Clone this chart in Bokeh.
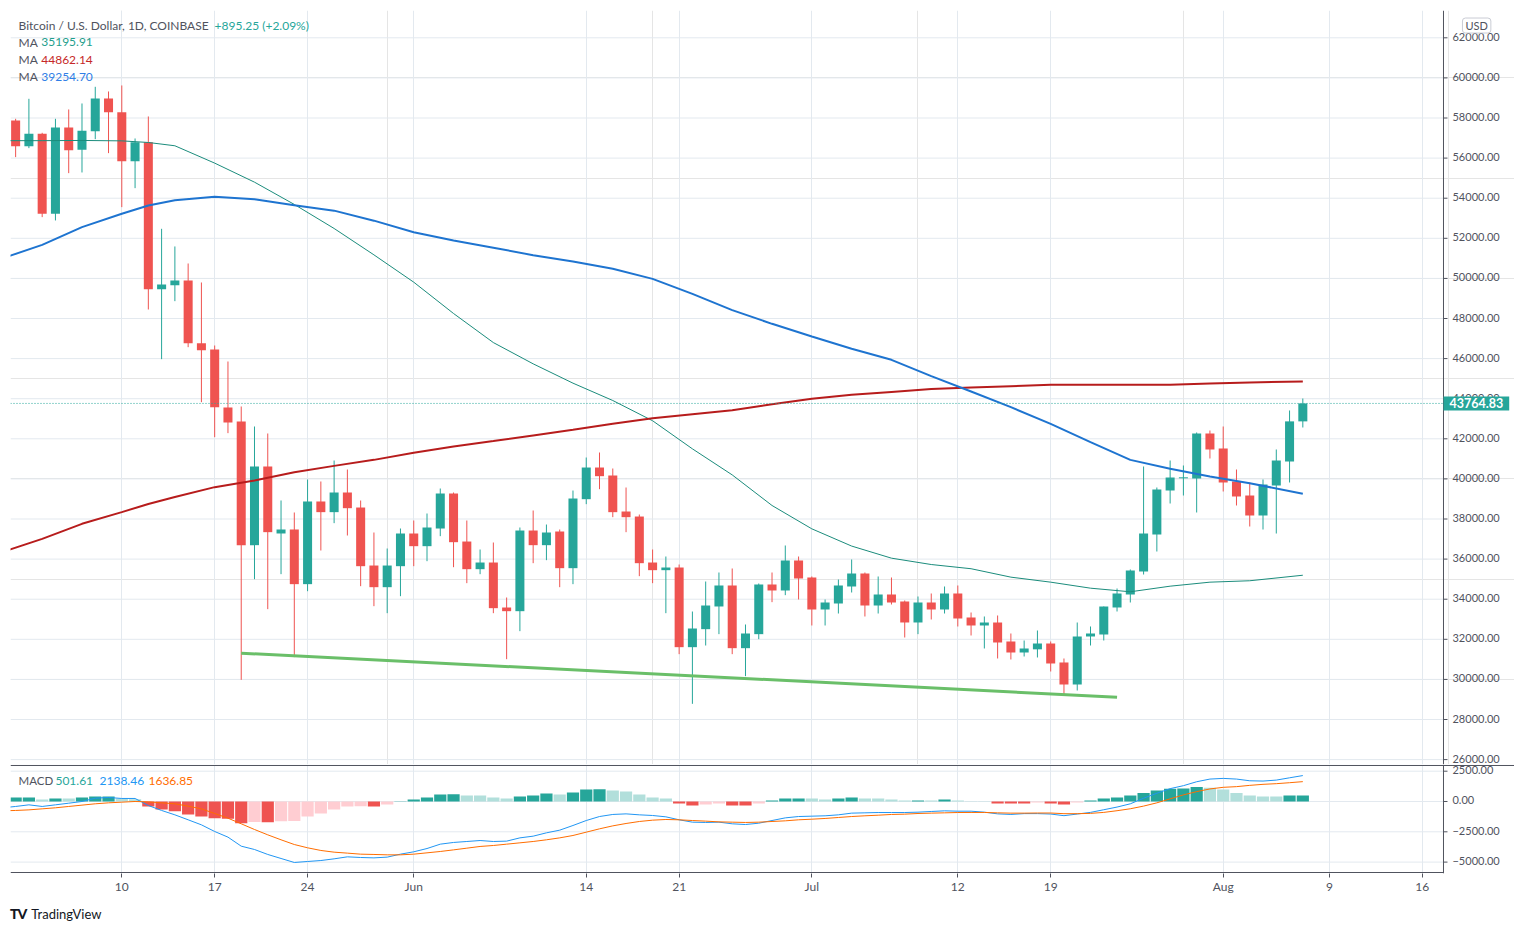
import pandas as pd
import numpy as np
from bokeh.plotting import figure
from bokeh.models import (Range1d, FixedTicker, Grid, Span, Label, Div, ColumnDataSource)
from bokeh.core.properties import value
from bokeh.layouts import column
from bokeh.embed import file_html
from bokeh.resources import INLINE

# ---------------- data ----------------
FIRST_DAY = "2021-05-02"
LAST_DAY = "2021-08-07"

open_ = [57877, 56597, 57212, 53222, 57528, 56420, 57345, 58974, 58293, 55849,
         56796, 49463, 49663, 49896, 46770, 46454, 43561, 42864, 36696, 40619,
         37278, 37477, 34751, 38874, 38342, 39322, 38573, 35680, 34600, 35647,
         37277, 36645, 37526, 39272, 36877, 35498, 35830, 33586, 33403, 37426,
         36695, 37377, 35548, 38989, 40568, 40170, 38374, 38124, 35830, 35448,
         35581, 31608, 32506, 33637, 34684, 31558, 32257, 34734, 34435, 35931,
         35083, 33487, 33786, 34634, 35282, 33686, 34235, 33886, 32839, 33836,
         33487, 34285, 33088, 32689, 32838, 31891, 31342, 31500, 31791, 30844,
         29746, 32140, 32240, 33587, 34235, 35382, 37227, 39422, 40030, 40020,
         42265, 41517, 39871, 39172, 38175, 39671, 40868, 42869.58]
high = [57960, 58958, 57262, 57960, 58426, 58725, 59556, 59323, 59623, 56979,
        58077, 52474, 51593, 50744, 49796, 46654, 45856, 43612, 42614, 42265,
        38924, 38325, 39970, 39871, 40918, 40469, 38923, 37327, 36529, 37526,
        37925, 38274, 39521, 39322, 37925, 36479, 36828, 34085, 37576, 38424,
        37725, 37476, 39421, 41067, 41317, 40519, 39571, 38224, 36479, 36130,
        35730, 33386, 34883, 35332, 35532, 32739, 34784, 35332, 36679, 36130,
        35133, 33986, 34983, 35981, 35332, 35133, 35083, 33936, 34135, 34285,
        34634, 34684, 33337, 33138, 33188, 32290, 31941, 32440, 31891, 31043,
        32838, 32639, 33636, 34534, 35482, 40619, 39571, 40918, 40669, 42315,
        42414, 42614, 40469, 39821, 39971, 41467, 43412, 44010]
low = [56050, 56497, 53056, 52890, 55250, 55283, 56946, 56248, 53555, 54502,
       48450, 45972, 48865, 46570, 43828, 42082, 42282, 29979, 34999, 33504,
       35249, 31110, 34400, 36429, 37793, 37177, 34650, 33652, 33303, 34151,
       35647, 35897, 37144, 35597, 34800, 35248, 33303, 31009, 32406, 35797,
       35947, 34600, 34750, 38740, 39488, 38091, 37343, 35149, 34800, 33303,
       31259, 28782, 31691, 32257, 31259, 30162, 32007, 33853, 34202, 33986,
       32689, 32689, 33287, 34335, 33138, 33287, 33736, 32090, 32257, 32988,
       33287, 32639, 32190, 31542, 31043, 30993, 31143, 31093, 30395, 29247,
       29447, 31691, 31941, 33387, 33836, 35232, 36379, 38773, 39172, 38325,
       41018, 39372, 38674, 37626, 37476, 37277, 39821, 42564]
close = [56597, 57212, 53222, 57528, 56397, 57362, 58974, 58293, 55849, 56796,
         49463, 49696, 49896, 46770, 46421, 43578, 42814, 36696, 40619, 37344,
         37477, 34751, 38874, 38342, 39322, 38540, 35647, 34600, 35680, 37277,
         36645, 37576, 39272, 36844, 35498, 35830, 33553, 33403, 37426, 36695,
         37327, 35548, 39022, 40568, 40136, 38341, 38091, 35797, 35448, 35581,
         31608, 32539, 33686, 34684, 31558, 32290, 34734, 34435, 35931, 35033,
         33487, 33836, 34684, 35282, 33686, 34235, 33836, 32839, 33836, 33487,
         34285, 33038, 32689, 32838, 31841, 31342, 31542, 31791, 30794, 29746,
         32140, 32290, 33636, 34285, 35432, 37277, 39472, 40070, 40080, 42265,
         41467, 39821, 39123, 38175, 39721, 40918, 42869.58, 43764.83]

# moving averages, read at sample dates
ma_dates = ["2021-05-01", "2021-05-04", "2021-05-07", "2021-05-10", "2021-05-12", "2021-05-14",
            "2021-05-17", "2021-05-20", "2021-05-23", "2021-05-26", "2021-05-29", "2021-06-01",
            "2021-06-04", "2021-06-07", "2021-06-10", "2021-06-13", "2021-06-16", "2021-06-19",
            "2021-06-22", "2021-06-25", "2021-06-28", "2021-07-01", "2021-07-04", "2021-07-07",
            "2021-07-10", "2021-07-13", "2021-07-16", "2021-07-19", "2021-07-22", "2021-07-25",
            "2021-07-28", "2021-07-31", "2021-08-03", "2021-08-07"]
ma_teal = [56870, 56870, 56880, 56860, 56780, 56615, 55750, 54800, 53690, 52490, 51175, 49812,
           48250, 46800, 45739, 44775, 43910, 42900, 41500, 40200, 38674, 37510, 36650, 36047,
           35730, 35520, 35100, 34850, 34550, 34370, 34650, 34850, 34920, 35195.91]
ma_red = [36350, 37011, 37760, 38342, 38750, 39100, 39589, 39921, 40336, 40650, 40950, 41300,
          41620, 41890, 42170, 42450, 42750, 43030, 43230, 43430, 43720, 43994, 44200, 44340,
          44480, 44560, 44626, 44692, 44700, 44690, 44700, 44760, 44810, 44862.14]
ma_blue = [51000, 51675, 52557, 53222, 53640, 53900, 54070, 53950, 53650, 53380, 52880, 52306,
           51890, 51530, 51159, 50843, 50477, 49978, 49230, 48420, 47735, 47103, 46488, 45939,
           45124, 44360, 43578, 42747, 41833, 40950, 40502, 40120, 39788, 39254.70]

trend_dates = ["2021-05-19", "2021-07-24"]
trend_values = [31310, 29110]

LAST_PRICE = 43764.83

# MACD (lines start one day earlier, at the left edge)
MACD_FIRST_DAY = "2021-05-01"
macd_line = [-520, -410, -275, -410, -275, -140, 0, 275, 330, 250, 250, -330, -740, -1100, -1510,
             -1925, -2475, -2940, -3685, -3960, -4370, -4700, -5030, -4950, -4870, -4730, -4565,
             -4620, -4650, -4590, -4345,
             -4150, -3880, -3520, -3380, -3300, -3220, -3300, -3270, -3000, -2860, -2585, -2365,
             -1980, -1570, -1240, -1070, -1020, -1100, -1155, -1265, -1510, -1705, -1730, -1705,
             -1840, -1900, -1790, -1570, -1350, -1240,
             -1210, -1180, -1100, -960, -935, -910, -910, -910, -880, -825, -770, -800, -800,
             -880, -1020, -1070, -1000, -1000, -1035, -1170, -1035, -900, -680, -460, -190, 270,
             680, 1060, 1305, 1630, 1850,
             1905, 1850, 1710, 1685, 1765, 1955, 2138.46]
signal_line = [-770, -740, -690, -605, -520, -410, -300, -190, -110, -55, 0, -30, -110, -190, -385,
               -605, -990, -1375, -1840, -2310, -2750, -3160, -3550, -3820, -4040, -4180, -4260,
               -4345, -4370, -4400, -4400,
               -4345, -4235, -4125, -3990, -3850, -3710, -3630, -3520, -3410, -3300, -3160, -3000,
               -2805, -2530, -2255, -2010, -1815, -1650, -1540, -1485, -1510, -1570, -1620, -1680,
               -1705, -1730, -1705, -1650, -1595, -1510,
               -1460, -1400, -1320, -1240, -1180, -1130, -1070, -1045, -990, -960, -935, -910,
               -905, -905, -935, -960, -960, -950, -950, -1005, -1005, -980, -900, -760, -600,
               -380, -110, 220, 545, 815, 1035,
               1170, 1225, 1330, 1415, 1470, 1550, 1636.85]
histogram = [330, 335, 165, 250, 245, 330, 410, 415, 250, 190, -410, -660, -800, -1070, -1240,
             -1375, -1430, -1790, -1700, -1720, -1620, -1610, -1240, -990, -660, -410, -400, -420,
             -250, 30,
             165, 330, 580, 590, 495, 490, 330, 250, 410, 495, 660, 580, 740, 990, 1000, 910, 825,
             580, 330, 250, -165, -330, -250, -165, -330, -335, -165, 80, 250, 255,
             245, 165, 250, 330, 250, 245, 165, 80, 85, 80, 165, 80, 20, 15, -165, -170, -175,
             -85, -170, -245, -85, 80, 245, 330, 490, 710, 900, 1060, 1065, 1200, 1140,
             980, 710, 490, 410, 405, 490, 501.61]

tick_days = [0, 7, 14, 22, 35, 42, 52, 63, 70, 83, 91, 98]
tick_labels = ["10", "17", "24", "Jun", "14", "21", "Jul", "12", "19", "Aug", "9", "16"]
price_ticks = list(range(26000, 62001, 2000))
macd_ticks = [-5000, -2500, 0, 2500]

# ---------------- styling / geometry ----------------
UP = "#26a69a"
DOWN = "#ef5350"
UP_LIGHT = "#b2dfdb"
DOWN_LIGHT = "#ffcdd2"
GRID = "#e3e9ef"
AXIS = "#50535e"
TEXT = "#50535e"
FONT = "Lato"

PX_PER_DAY = 13.27
X_LEFT = -8.387
FRAME_W = 1504
X_RIGHT = X_LEFT + FRAME_W / PX_PER_DAY
AX_X = 99.6                       # price-scale line position (in days)
TICK_X1 = AX_X + 4 / PX_PER_DAY
LBL_X = AX_X + 9 / PX_PER_DAY

base = pd.Timestamp("2021-05-10")
days = pd.date_range(FIRST_DAY, LAST_DAY, freq="D")
x = np.asarray((days - base).days, dtype=float)
macd_days = pd.date_range(MACD_FIRST_DAY, LAST_DAY, freq="D")
xm = np.asarray((macd_days - base).days, dtype=float)
ma_x = np.asarray((pd.to_datetime(ma_dates) - base).days, dtype=float)
tr_x = np.asarray((pd.to_datetime(trend_dates) - base).days, dtype=float)

o = np.array(open_, dtype=float)
c = np.array(close, dtype=float)
h = np.array(high, dtype=float)
l = np.array(low, dtype=float)
col = np.where(c >= o, UP, DOWN)
src = ColumnDataSource(dict(x=x, top=np.maximum(o, c), bottom=np.minimum(o, c), high=h, low=l, color=col))

x_range = Range1d(X_LEFT, X_RIGHT)
xt = FixedTicker(ticks=tick_days)


def fmt(v):
    return ("\u2212" if v < 0 else "") + f"{abs(v):.2f}"


def price_scale(fig, ticks):
    n = len(ticks)
    fig.segment(x0=[X_LEFT] * n, y0=ticks, x1=[AX_X] * n, y1=ticks, line_color=GRID, line_width=1)
    fig.segment(x0=[AX_X] * n, y0=ticks, x1=[TICK_X1] * n, y1=ticks, line_color=AXIS, line_width=1)
    fig.text(x=[LBL_X] * n, y=ticks, text=[fmt(t) for t in ticks], text_font=value(FONT),
             text_font_size=value("11px"), text_color=TEXT, text_baseline="middle",
             text_align="left", y_offset=-1)
    fig.add_layout(Span(location=AX_X, dimension="height", line_color=AXIS, line_width=1))


# ---------------- price pane ----------------
p1 = figure(output_backend="svg", toolbar_location=None, frame_width=FRAME_W, frame_height=754,
            x_range=x_range, y_range=Range1d(25756, 63362), x_axis_location=None,
            y_axis_location=None, min_border_left=10, min_border_top=10, min_border_bottom=0,
            min_border_right=0, background_fill_color="white", border_fill_color="white")
p1.outline_line_color = None
p1.add_layout(Grid(dimension=0, ticker=xt, grid_line_color=GRID))
price_scale(p1, price_ticks)

p1.segment(x0="x", y0="low", x1="x", y1="high", color="color", line_width=1, source=src)
p1.vbar(x="x", width=0.68, top="top", bottom="bottom", fill_color="color", line_color=None, source=src)

p1.line(ma_x, ma_teal, line_color="#1b8c7c", line_width=1)
p1.line(ma_x, ma_red, line_color="#b71c1c", line_width=2)
p1.line(ma_x, ma_blue, line_color="#1e74d0", line_width=2)
p1.line(tr_x, trend_values, line_color="#6abf69", line_width=3)

p1.segment(x0=[X_LEFT], y0=[LAST_PRICE], x1=[AX_X], y1=[LAST_PRICE], line_color=UP,
           line_dash="1 2", line_width=1)


def lab(fig, xx, yy, text, color, size="12px", **kw):
    fig.add_layout(Label(x=xx, y=yy, text=text, text_color=color, text_font=FONT,
                         text_font_size=size, text_baseline="middle", **kw))


lab(p1, -7.78, 62613, "Bitcoin / U.S. Dollar, 1D, COINBASE", TEXT)
lab(p1, 6.99, 62613, "+895.25 (+2.09%)", UP)
lab(p1, -7.78, 61781, "MA", TEXT)
lab(p1, -6.07, 61781, "35195.91", "#1e9e8c")
lab(p1, -7.78, 60918, "MA", TEXT)
lab(p1, -6.07, 60918, "44862.14", "#c62828")
lab(p1, -7.78, 60070, "MA", TEXT)
lab(p1, -6.07, 60070, "39254.70", "#2f7ee6")

p1.add_layout(Label(x=102.1, y=62613, text="USD", text_color=TEXT, text_font=FONT, text_font_size="11px",
                    text_align="center", text_baseline="middle", border_line_color="#c9ccd4",
                    background_fill_color="white", border_radius=3,
                    padding=dict(left=3, right=3, top=1, bottom=1)))
p1.add_layout(Label(x=AX_X, y=LAST_PRICE, text="43764.83", text_color="white", text_font=FONT,
                    text_font_size="12.5px", text_font_style="bold", text_align="left",
                    text_baseline="middle", x_offset=0, background_fill_color=UP,
                    background_fill_alpha=1.0, level="overlay",
                    padding=dict(left=6, right=6, top=2, bottom=2)))

# ---------------- MACD pane ----------------
p2 = figure(output_backend="svg", toolbar_location=None, frame_width=FRAME_W, frame_height=109,
            x_range=x_range, y_range=Range1d(-5940, 3052), y_axis_location=None,
            min_border_left=10, min_border_top=0, min_border_right=0, min_border_bottom=4,
            background_fill_color="white", border_fill_color="white")
p2.outline_line_color = None
p2.ygrid.grid_line_color = None
p2.xgrid.grid_line_color = GRID
p2.xgrid.ticker = xt
p2.xaxis.ticker = xt
p2.xaxis.major_label_overrides = {d: t for d, t in zip(tick_days, tick_labels)}
ax = p2.xaxis[0]
ax.axis_line_color = None
ax.major_tick_line_color = AXIS
ax.major_tick_out = 4
ax.major_tick_in = 0
ax.minor_tick_line_color = None
ax.major_label_text_font = FONT
ax.major_label_text_color = TEXT
ax.major_label_text_font_size = "12px"
ax.major_label_standoff = 1
price_scale(p2, macd_ticks)

hist = np.array(histogram, dtype=float)
prev = np.concatenate([[hist[0]], hist[:-1]])
hcol = np.where(hist >= 0, np.where(hist >= prev, UP, UP_LIGHT),
                np.where(hist <= prev, DOWN, DOWN_LIGHT))
p2.vbar(x=x, width=0.92, top=hist, bottom=0, fill_color=hcol, line_color=None)
p2.line(xm, macd_line, line_color="#2196f3", line_width=1)
p2.line(xm, signal_line, line_color="#ff6d00", line_width=1)
p2.add_layout(Span(location=2970, dimension="width", line_color=AXIS, line_width=1))
p2.segment(x0=[X_LEFT], y0=[-5858], x1=[AX_X], y1=[-5858], line_color=AXIS, line_width=1)

lab(p2, -7.78, 1732, "MACD", TEXT, size="11.5px")
lab(p2, -5.0, 1732, "501.61", UP)
lab(p2, -1.68, 1732, "2138.46", "#2196f3")
lab(p2, 2.01, 1732, "1636.85", "#ff6d00")

logo = Div(text=('<div style="font-family:Lato,sans-serif;font-size:13px;color:#131722;'
                 'display:flex;align-items:center;white-space:nowrap;">'
                 '<span style="font-weight:900;font-size:14px;letter-spacing:-1px;margin-right:5px;">TV</span>'
                 'TradingView</div>'),
           width=200, height=24, margin=(8, 0, 0, 10))

layout = column(p1, p2, logo, spacing=0)
open("out.html", "w").write(file_html(layout, INLINE))
